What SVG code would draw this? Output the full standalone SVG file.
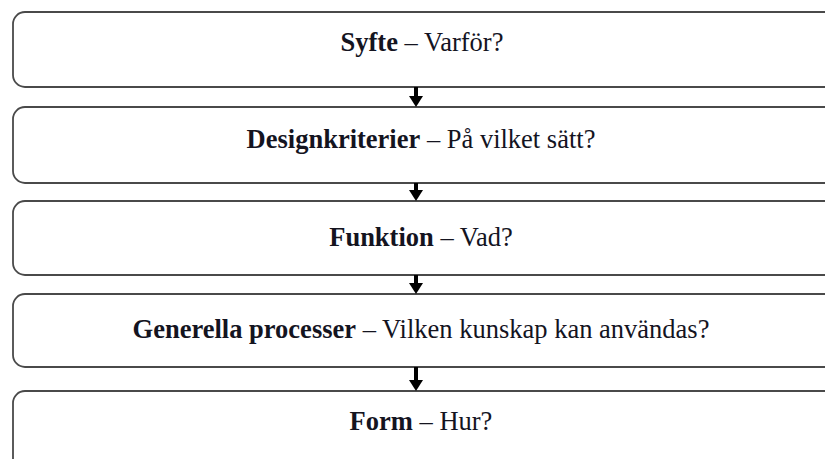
<svg xmlns="http://www.w3.org/2000/svg" width="825" height="459" viewBox="0 0 825 459">
  <style>
    .box { fill: #ffffff; stroke: #4a4a4a; stroke-width: 1.8; }
    .label { font-family: "Liberation Serif", "DejaVu Serif", serif; font-size: 26.5px; fill: #14141f; text-anchor: middle; }
    .label .b { font-weight: bold; }
    .shaft { stroke: #000; stroke-width: 4; }
    .head { fill: #000; }
  </style>
  <rect width="825" height="459" fill="#ffffff"/>

  <g id="node-syfte">
    <rect class="box" x="13" y="12" width="830" height="75" rx="12" ry="12"/>
    <text class="label" x="422" y="51"><tspan class="b">Syfte</tspan> – Varför?</text>
  </g>

  <g id="node-designkriterier">
    <rect class="box" x="13" y="107" width="830" height="76" rx="12" ry="12"/>
    <text class="label" x="421" y="148"><tspan class="b">Designkriterier</tspan> – På vilket sätt?</text>
  </g>

  <g id="node-funktion">
    <rect class="box" x="13" y="201" width="830" height="74" rx="12" ry="12"/>
    <text class="label" x="421" y="246"><tspan class="b">Funktion</tspan> – Vad?</text>
  </g>

  <g id="node-generella-processer">
    <rect class="box" x="13" y="294" width="830" height="73" rx="12" ry="12"/>
    <text class="label" x="421" y="338"><tspan class="b">Generella processer</tspan> – Vilken kunskap kan användas?</text>
  </g>

  <g id="node-form">
    <rect class="box" x="13" y="391" width="830" height="80" rx="12" ry="12"/>
    <text class="label" x="421" y="430"><tspan class="b">Form</tspan> – Hur?</text>
  </g>

  <g id="connectors">
    <line class="shaft" x1="416" y1="87" x2="416" y2="98"/>
    <polygon class="head" points="409,96 423,96 416,107"/>
    <line class="shaft" x1="416" y1="183" x2="416" y2="192"/>
    <polygon class="head" points="409,190 423,190 416,201"/>
    <line class="shaft" x1="416" y1="275" x2="416" y2="285"/>
    <polygon class="head" points="409,283 423,283 416,294"/>
    <line class="shaft" x1="416" y1="367" x2="416" y2="382"/>
    <polygon class="head" points="409,380 423,380 416,391"/>
  </g>
</svg>
